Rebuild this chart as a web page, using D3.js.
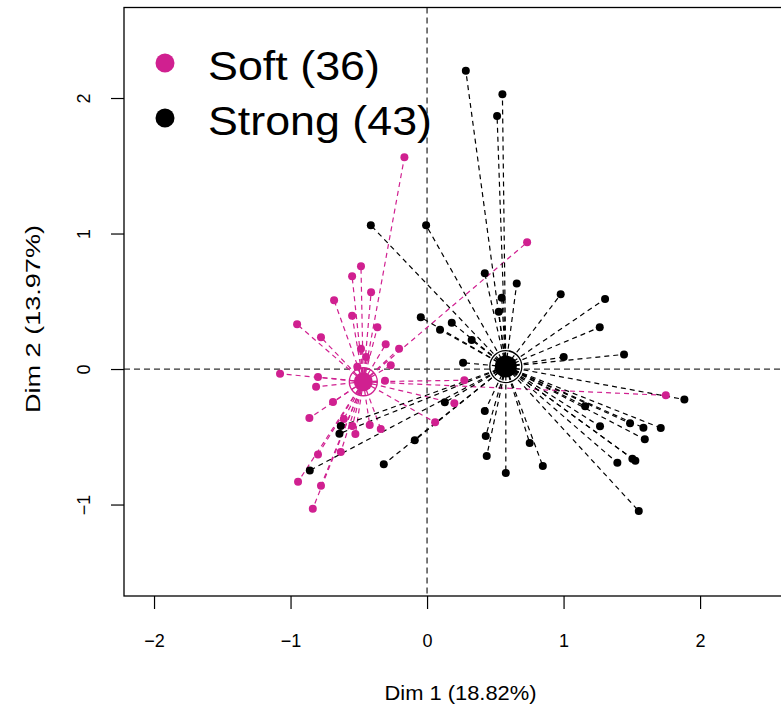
<!DOCTYPE html>
<html>
<head>
<meta charset="utf-8">
<script src="https://cdn.jsdelivr.net/npm/d3@7"></script>
<style>
  body { margin: 0; background: #fff; }
  svg text { font-family: "Liberation Sans", Arial, sans-serif; fill: #000; }
</style>
</head>
<body>
<div id="chart"></div>
<script>
// ── Data: individuals on Dim 1 / Dim 2, grouped by category ─────────
const groups   = ["Soft", "Strong"];
const counts   = [36, 43];
const xTicks   = [-2, -1, 0, 1, 2];
const yTicks   = [-1, 0, 1, 2];
const xLabel   = "Dim 1 (18.82%)";
const yLabel   = "Dim 2 (13.97%)";

const softPts = [
  [-0.166, 1.562], [0.733, 0.935], [-0.484, 0.758], [-0.549, 0.684], [-0.410, 0.566],
  [-0.681, 0.507], [-0.549, 0.393], [-0.952, 0.330], [-0.777, 0.234], [-0.364, 0.308],
  [-0.484, 0.150], [-0.303, 0.182], [-0.205, 0.150], [-0.511, 0.017], [-0.266, 0.028],
  [-1.077, -0.035], [-0.799, -0.059], [-0.813, -0.131], [-0.308, -0.086], [-0.689, -0.244],
  [-0.862, -0.362], [-0.610, -0.369], [-0.547, -0.421], [-0.525, -0.480], [-0.420, -0.413],
  [-0.339, -0.443], [0.059, -0.393], [-0.799, -0.630], [-0.632, -0.613], [-0.945, -0.832],
  [-0.777, -0.861], [-0.837, -1.031], [1.749, -0.194], [0.273, -0.083], [0.200, -0.253],
  [-0.447, 0.089]
];
const strongPts = [
  [0.284, 2.201], [0.552, 2.027], [0.513, 1.867], [-0.412, 1.061], [-0.007, 1.061],
  [0.423, 0.706], [0.657, 0.632], [0.547, 0.526], [0.525, 0.423], [0.979, 0.551],
  [1.304, 0.517], [-0.046, 0.382], [0.181, 0.342], [0.095, 0.290], [0.327, 0.214],
  [1.265, 0.308], [1.001, 0.089], [1.443, 0.108], [0.264, 0.046], [1.885, -0.225],
  [0.130, -0.246], [1.158, -0.275], [0.423, -0.310], [1.487, -0.401], [1.267, -0.423],
  [1.585, -0.433], [1.712, -0.435], [1.595, -0.519], [-0.090, -0.526], [0.430, -0.494],
  [0.752, -0.546], [0.437, -0.642], [1.394, -0.692], [1.504, -0.662], [1.526, -0.677],
  [0.848, -0.716], [0.577, -0.768], [1.551, -1.048], [-0.632, -0.421], [-0.642, -0.477],
  [-0.859, -0.748], [-0.317, -0.703], [0.620, 0.050]
];
const centroids = [[-0.467, -0.094], [0.577, 0.018]];
const colors    = ["#D02090", "#000000"];

// ── Layout ─────────────────────────────────────────────────────────
const width = 781, height = 706;
const plotL = 124, plotR = 797, plotT = 7.5, plotB = 596;

const svg = d3.select("#chart").append("svg")
    .attr("width", width).attr("height", height);

const x = d3.scaleLinear().domain([-2.22, 2.71]).range([plotL, plotR]);
const y = d3.scaleLinear().domain([-1.675, 2.668]).range([plotB, plotT]);

// zero reference lines
svg.append("line").attr("x1", x(0)).attr("x2", x(0)).attr("y1", plotT).attr("y2", plotB)
    .attr("stroke", "#333").attr("stroke-width", 1.3).attr("stroke-dasharray", "6,4");
svg.append("line").attr("x1", plotL).attr("x2", plotR).attr("y1", y(0)).attr("y2", y(0))
    .attr("stroke", "#333").attr("stroke-width", 1.3).attr("stroke-dasharray", "6,4");

// spokes from each point to its group centre
const sets = [softPts, strongPts];
sets.forEach((pts, gi) => {
    const c = centroids[gi];
    svg.append("g").selectAll("line").data(pts).join("line")
        .attr("x1", x(c[0])).attr("y1", y(c[1]))
        .attr("x2", d => x(d[0])).attr("y2", d => y(d[1]))
        .attr("stroke", colors[gi]).attr("stroke-width", 1.2)
        .attr("stroke-dasharray", "5,4");
});

// points
sets.forEach((pts, gi) => {
    svg.append("g").selectAll("circle").data(pts).join("circle")
        .attr("cx", d => x(d[0])).attr("cy", d => y(d[1]))
        .attr("r", 4).attr("fill", colors[gi]);
});

// group centres: filled disc + ring
centroids.forEach((c, gi) => {
    svg.append("circle").attr("cx", x(c[0])).attr("cy", y(c[1]))
        .attr("r", gi ? 11 : 9.5).attr("fill", colors[gi]);
    svg.append("circle").attr("cx", x(c[0])).attr("cy", y(c[1]))
        .attr("r", gi ? 16 : 14).attr("fill", "none")
        .attr("stroke", colors[gi]).attr("stroke-width", 1.3);
});

// box
svg.append("rect").attr("x", plotL).attr("y", plotT)
    .attr("width", plotR - plotL).attr("height", plotB - plotT)
    .attr("fill", "none").attr("stroke", "#000").attr("stroke-width", 1.3);

// axes
const gx = svg.append("g").attr("transform", `translate(0,${plotB})`)
    .call(d3.axisBottom(x).tickValues(xTicks).tickSize(13).tickPadding(25)
        .tickFormat(d3.format("d")));
gx.select(".domain").remove();
gx.selectAll("line").attr("stroke-width", 1.2);
gx.selectAll("text").style("font-size", "18px")
    .style("font-family", "'Liberation Sans', Arial, sans-serif");

const gy = svg.append("g").attr("transform", `translate(${plotL},0)`)
    .call(d3.axisLeft(y).tickValues(yTicks).tickSize(13).tickFormat(d3.format("d")));
gy.select(".domain").remove();
gy.selectAll("line").attr("stroke-width", 1.2);
gy.selectAll("text")
    .attr("transform", "rotate(-90)")
    .attr("x", 0).attr("y", -34).attr("dy", 0)
    .attr("text-anchor", "middle")
    .style("font-size", "18px")
    .style("font-family", "'Liberation Sans', Arial, sans-serif");

// axis titles
svg.append("text").attr("x", (plotL + plotR) / 2).attr("y", 700)
    .attr("text-anchor", "middle").style("font-size", "20px")
    .attr("textLength", 152).attr("lengthAdjust", "spacingAndGlyphs")
    .text(xLabel);
svg.append("text")
    .attr("transform", "translate(40,319) rotate(-90)")
    .attr("text-anchor", "middle").style("font-size", "20px")
    .attr("textLength", 188).attr("lengthAdjust", "spacingAndGlyphs")
    .text(yLabel);

// legend
const legendLen = [172, 224];
groups.forEach((g, i) => {
    const ly = 63 + i * 55;
    svg.append("circle").attr("cx", 165).attr("cy", ly).attr("r", 9.5).attr("fill", colors[i]);
    svg.append("text").attr("x", 208).attr("y", ly + 17)
        .style("font-size", "40px")
        .attr("textLength", legendLen[i]).attr("lengthAdjust", "spacingAndGlyphs")
        .text(`${g} (${counts[i]})`);
});
</script>
</body>
</html>
